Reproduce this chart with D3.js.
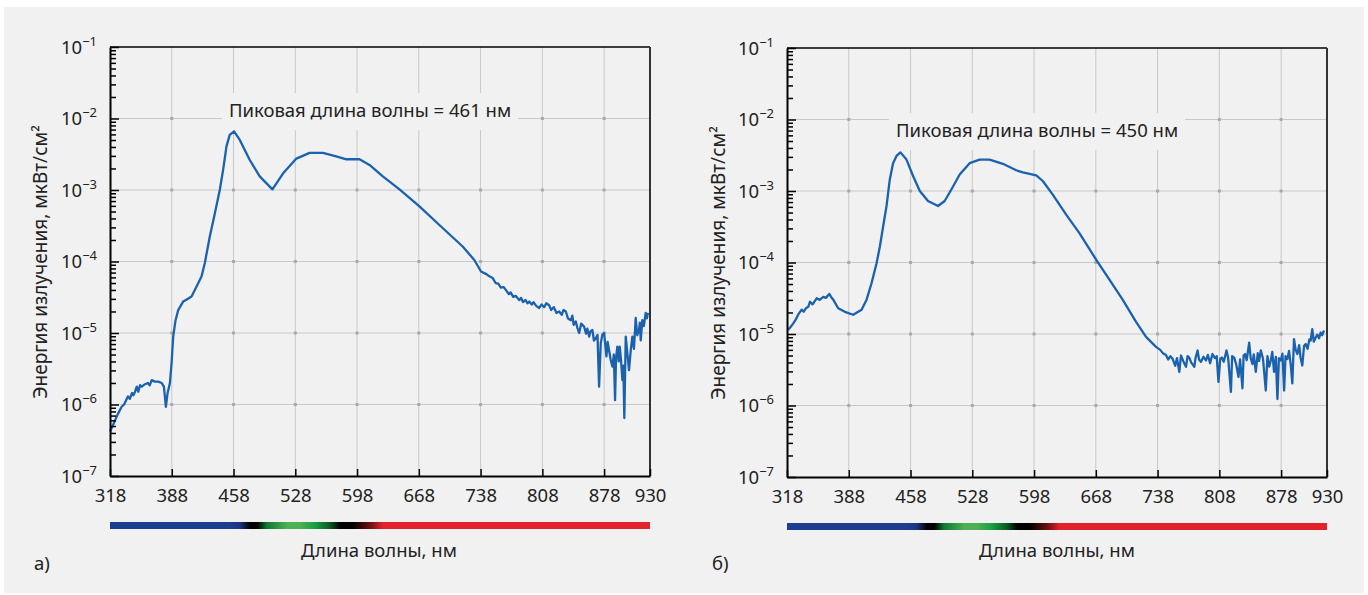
<!DOCTYPE html>
<html>
<head>
<meta charset="utf-8">
<script src="https://cdn.jsdelivr.net/npm/d3@7"></script>
<style>
    body { margin: 0; background: #fff; }
    svg { display: block; font-family: "Noto Sans", sans-serif; }
</style>
</head>
<body>
<svg id="chart" width="1368" height="595"></svg>
<script>
const wavelengthTicks = [318, 388, 458, 528, 598, 668, 738, 808, 878, 930];
const energyDecades = [1e-7, 1e-6, 1e-5, 1e-4, 1e-3, 1e-2, 1e-1];
const minorSteps = [2, 3, 4, 5, 6, 7, 8, 9];

// Panel a) spectrum, nm / мкВт/см²
const wavelengthA = [318, 321, 323.7, 327, 331.2, 334, 338.4, 340.5, 343, 344.5, 346.3, 348.3, 350.1, 352, 353.9,
    357, 361, 363, 365.3, 368.9, 372.8, 376.5, 379.1, 381.3, 383.3, 385.9, 387.8, 389.6, 392.3, 395.3, 400.9,
    405, 410.4, 416.1, 421.7, 425.5, 431.1, 436.8, 442.4, 446.2, 450, 453.7, 458.6, 465.1, 476.4, 487.7, 502.1,
    514, 529.2, 544.2, 559.3, 574.4, 585.8, 600.8, 612.1, 627.2, 646.1, 668.7, 691.3, 717.7, 730.9, 738.5, 745,
    748, 751.6, 755, 758, 761, 764, 766.8, 770, 772, 775, 778, 781.8, 784, 786, 789, 791, 793.1, 796, 798, 801,
    804.4, 807, 810, 812.5, 815.7, 818, 821, 824, 827.1, 830, 832, 834.6, 837, 840.3, 842, 843.5, 845.9, 847.5,
    849.7, 852, 855.3, 857.5, 859, 861, 862.5, 864.7, 866.5, 868.6, 870.5, 872.3, 874.2, 876, 878, 879.5, 880.6,
    882, 883.6, 885.5, 887.4, 889, 890.4, 891.5, 893, 894.5, 895.7, 897, 898.7, 899.8, 900.9, 902.5, 904.5,
    906.2, 908.2, 910, 911.8, 913.8, 915.6, 917.5, 918.5, 919.5, 921.3, 923, 925.1, 926.5, 927.7];
const energyA = [4.2e-7, 5.0e-7, 6.0e-7, 7.4e-7, 9.3e-7, 1.0e-6, 1.3e-6, 1.2e-6, 1.45e-6, 1.35e-6, 1.5e-6, 1.78e-6, 1.51e-6, 1.86e-6, 1.78e-6,
    1.9e-6, 2.0e-6, 1.85e-6, 2.19e-6, 2.09e-6, 2.09e-6, 2.0e-6, 1.78e-6, 9.3e-7, 1.45e-6, 2.0e-6, 3.8e-6, 8.9e-6, 1.51e-5, 2.09e-5, 2.75e-5,
    2.95e-5, 3.24e-5, 4.47e-5, 6.17e-5, 9.55e-5, 2.24e-4, 4.68e-4, 1.0e-3, 1.91e-3, 4.07e-3, 5.89e-3, 6.61e-3, 5.01e-3, 2.63e-3, 1.55e-3, 1.02e-3,
    1.7e-3, 2.75e-3, 3.31e-3, 3.31e-3, 2.95e-3, 2.69e-3, 2.69e-3, 2.24e-3, 1.55e-3, 1.02e-3, 5.89e-4, 3.24e-4, 1.62e-4, 1.05e-4, 7.24e-5, 6.6e-5,
    6.2e-5, 5.89e-5, 5.0e-5, 4.9e-5, 4.3e-5, 4.4e-5, 3.98e-5, 3.5e-5, 3.7e-5, 3.2e-5, 3.3e-5, 2.88e-5, 3.1e-5, 2.7e-5, 2.9e-5, 2.6e-5, 2.75e-5, 2.5e-5, 2.7e-5, 2.4e-5,
    2.24e-5, 2.5e-5, 2.3e-5, 2.6e-5, 2.45e-5, 2.1e-5, 2.3e-5, 1.9e-5, 2.0e-5, 1.8e-5, 2.1e-5, 2.0e-5, 1.6e-5, 1.51e-5, 1.75e-5, 1.3e-5, 1.45e-5, 1.2e-5,
    1.0e-5, 1.35e-5, 1.23e-5, 9.8e-6, 1.15e-5, 8.9e-6, 1.05e-5, 1.1e-5, 7.8e-6, 8.5e-6, 9.4e-6, 1.78e-6, 7.2e-6, 9.5e-6, 1.0e-5, 6.5e-6, 4.7e-6,
    7.5e-6, 5.75e-6, 4.2e-6, 3.39e-6, 5.0e-6, 1.15e-6, 4.5e-6, 6.46e-6, 4.0e-6, 6.46e-6, 4.4e-6, 2.19e-6, 3.5e-6, 6.46e-7, 8.9e-6, 5.0e-6,
    3.02e-6, 5.75e-6, 8.9e-6, 6.0e-6, 1.62e-5, 9.3e-6, 1.1e-5, 1.4e-5, 7.9e-6, 1.51e-5, 1.25e-5, 1.91e-5, 1.6e-5, 1.91e-5];

// Panel б) spectrum
const wavelengthB = [319.5, 322, 325.1, 328, 331, 334.6, 337, 339.5, 342.1, 344, 347, 351.6, 355, 359.1, 362, 365.9,
    368, 370.4, 376, 383.6, 393, 402.5, 408.2, 413.8, 419.5, 423.2, 426.9, 430.8, 434.5, 438.2, 442.1, 446.6,
    453.4, 460.9, 468.5, 477.8, 489.2, 496.7, 504.3, 513.7, 525, 536.3, 547.6, 562.7, 577.8, 585.3, 600.5, 607.9,
    619.2, 634.4, 649.4, 668.3, 683.4, 698.4, 713.6, 724.9, 736.2, 741, 744, 747.5, 750, 752.5, 755, 758, 760,
    762.6, 764.5, 767, 770.2, 772, 773.9, 776, 779.6, 781, 783.3, 785, 787.1, 790, 792.8, 795, 797.5, 800.2,
    803, 805, 807, 809, 810.9, 813, 816.1, 818, 821.1, 822.5, 824.8, 827, 829.7, 831.5, 834.2, 835.5, 837.2,
    839, 841.8, 843.5, 845.5, 847, 849.3, 851.5, 853, 855, 857.5, 860.6, 862.5, 864.5, 866.3, 868, 870, 872,
    873.8, 875.5, 877.6, 879.5, 881.4, 883, 885.1, 887, 889, 890.7, 892.6, 894.5, 896.4, 898.5, 900, 902, 904,
    905.9, 908, 910, 911.5, 913.3, 915, 917.2, 919, 921, 922.8, 924.5, 926.6];
const energyB = [1.15e-5, 1.25e-5, 1.41e-5, 1.6e-5, 1.9e-5, 2.19e-5, 2.05e-5, 2.3e-5, 2.4e-5, 2.82e-5, 2.6e-5, 3.16e-5, 3.0e-5, 3.31e-5, 3.2e-5, 3.63e-5,
    3.3e-5, 3.02e-5, 2.29e-5, 2.04e-5, 1.86e-5, 2.19e-5, 3.02e-5, 5.13e-5, 9.77e-5, 1.66e-4, 3.16e-4, 6.17e-4, 1.45e-3, 2.45e-3, 3.09e-3, 3.47e-3,
    2.75e-3, 1.62e-3, 1.0e-3, 7.24e-4, 6.17e-4, 7.24e-4, 1.05e-3, 1.7e-3, 2.45e-3, 2.75e-3, 2.75e-3, 2.4e-3, 1.95e-3, 1.82e-3, 1.66e-3, 1.38e-3,
    8.9e-4, 4.68e-4, 2.57e-4, 1.1e-4, 5.75e-5, 3.02e-5, 1.48e-5, 9.1e-6, 6.6e-6, 6.0e-6, 5.4e-6, 5.1e-6, 4.4e-6, 4.9e-6, 4.5e-6, 3.6e-6, 4.6e-6,
    2.95e-6, 5.0e-6, 4.2e-6, 3.47e-6, 4.9e-6, 4.68e-6, 4.0e-6, 3.47e-6, 4.6e-6, 5.89e-6, 4.4e-6, 4.07e-6, 4.8e-6, 4.27e-6, 5.1e-6, 3.9e-6, 5.25e-6,
    4.6e-6, 4.9e-6, 2.14e-6, 4.5e-6, 4.68e-6, 4.1e-6, 5.89e-6, 4.6e-6, 1.55e-6, 4.9e-6, 4.68e-6, 3.8e-6, 2.51e-6, 4.4e-6, 1.74e-6, 5.0e-6, 5.25e-6,
    4.3e-6, 7.59e-6, 4.6e-6, 3.8e-6, 5.2e-6, 2.95e-6, 5.4e-6, 4.2e-6, 5.89e-6, 4.5e-6, 1.62e-6, 4.9e-6, 3.5e-6, 4.27e-6, 5.6e-6, 2.95e-6, 4.8e-6,
    1.23e-6, 4.6e-6, 4.27e-6, 5.3e-6, 1.62e-6, 4.9e-6, 4.47e-6, 5.8e-6, 3.6e-6, 2.04e-6, 8.5e-6, 6.0e-6, 5.25e-6, 7.0e-6, 4.7e-6, 3.63e-6, 6.8e-6,
    7.24e-6, 6.2e-6, 8.4e-6, 8.13e-6, 1.17e-5, 7.8e-6, 8.9e-6, 9.8e-6, 8.7e-6, 1.05e-5, 9.6e-6, 1.12e-5];

// colour strip under the x axis: wavelength -> colour
const stripWavelengths = [318, 454, 465, 477, 485, 496, 519, 533, 550, 567, 579, 593, 613, 627, 930];
const stripColors = ["#1d3d91", "#1d3d91", "#1e3480", "#000000", "#000000", "#0c7a32", "#4db052", "#4db052",
    "#19a045", "#0b5a24", "#000000", "#000000", "#6e0f12", "#e2222a", "#e2222a"];

const yTitle = "Энергия излучения, мкВт/см²";
const xTitle = "Длина волны, нм";

const svg = d3.select("#chart");
const bg = "#f1f1f1";
const ink = "#222";
const fontSize = 18.5;

svg.append("rect")
    .attr("x", 4).attr("y", 7)
    .attr("width", 1360).attr("height", 586)
    .attr("fill", bg);

// gradient for the colour strip, shared by both panels
const stripX = d3.scaleLinear().domain([318, 930]).range([0, 1]);
svg.append("defs")
    .append("linearGradient")
    .attr("id", "spectrum")
    .selectAll("stop")
    .data(stripWavelengths)
    .join("stop")
    .attr("offset", d => stripX(d))
    .attr("stop-color", (_, i) => stripColors[i]);

drawPanel({
    left: 110, top: 47, wl: wavelengthA, energy: energyA,
    peak: "Пиковая длина волны = 461 нм", peakX: 370, peakY: 117, boxY: 93,
    tag: "а)", tagX: 34, titleX: 379, yTitleX: 47
});
drawPanel({
    left: 787, top: 48, wl: wavelengthB, energy: energyB,
    peak: "Пиковая длина волны = 450 нм", peakX: 1037, peakY: 137, boxY: 113,
    tag: "б)", tagX: 712, titleX: 1057, yTitleX: 725
});

function drawPanel(p) {
    const width = 540;
    const height = 429;

    const x = d3.scaleLinear()
        .domain([318, 930])
        .range([p.left, p.left + width]);
    const y = d3.scaleLog()
        .domain([1e-7, 1e-1])
        .range([p.top + height, p.top]);

    const g = svg.append("g");

    // grid
    const innerX = wavelengthTicks.slice(1, -1);
    const innerY = energyDecades.slice(1, -1);
    g.append("g")
        .selectAll("line")
        .data(innerX)
        .join("line")
        .attr("x1", d => x(d)).attr("x2", d => x(d))
        .attr("y1", p.top).attr("y2", p.top + height)
        .attr("stroke", "#c8c8c8");
    g.append("g")
        .selectAll("line")
        .data(innerY)
        .join("line")
        .attr("x1", p.left).attr("x2", p.left + width)
        .attr("y1", d => y(d)).attr("y2", d => y(d))
        .attr("stroke", "#c8c8c8");

    // little squares where grid lines cross
    const crossings = d3.cross(innerX, innerY);
    g.append("g")
        .selectAll("rect")
        .data(crossings)
        .join("rect")
        .attr("x", d => x(d[0]) - 1.5)
        .attr("y", d => y(d[1]) - 1.5)
        .attr("width", 3).attr("height", 3)
        .attr("fill", "#a9a9a9");

    // peak label, on a patch that hides the grid
    const label = g.append("text")
        .attr("x", p.peakX).attr("y", p.peakY)
        .attr("text-anchor", "middle")
        .attr("font-size", fontSize)
        .attr("fill", ink)
        .text(p.peak);
    const box = label.node().getBBox();
    g.insert("rect", "text")
        .attr("x", box.x - 7).attr("y", p.boxY)
        .attr("width", box.width + 14).attr("height", 37)
        .attr("fill", bg);

    // spectrum line
    const points = p.wl.map((w, i) => [w, p.energy[i]]);
    g.append("path")
        .datum(points)
        .attr("fill", "none")
        .attr("stroke", "#1a62ae")
        .attr("stroke-width", 2.3)
        .attr("stroke-linejoin", "round")
        .attr("d", d3.line().x(d => x(d[0])).y(d => y(d[1])));

    // frame
    g.append("line")
        .attr("x1", p.left).attr("x2", p.left + width)
        .attr("y1", p.top).attr("y2", p.top)
        .attr("stroke", "#000").attr("stroke-width", 1.5);
    g.append("line")
        .attr("x1", p.left + width).attr("x2", p.left + width)
        .attr("y1", p.top).attr("y2", p.top + height)
        .attr("stroke", "#333").attr("stroke-width", 2);

    // x axis, ticks pointing inward
    const xAxis = g.append("g")
        .attr("transform", `translate(0,${p.top + height})`)
        .call(d3.axisBottom(x)
            .tickValues(wavelengthTicks)
            .tickSizeInner(-7)
            .tickSizeOuter(0)
            .tickPadding(13)
            .tickFormat(d3.format("d")));
    xAxis.select(".domain").attr("stroke-width", 2);
    xAxis.selectAll(".tick line").attr("stroke-width", 1.5);
    xAxis.selectAll("text")
        .attr("font-size", fontSize)
        .attr("font-family", "\"Noto Sans\", sans-serif")
        .attr("fill", ink);

    // y axis: minor then major ticks, pointing inward
    const minors = d3.cross(energyDecades.slice(0, -1), minorSteps).map(([d, m]) => d * m);
    const yMinor = g.append("g")
        .attr("transform", `translate(${p.left},0)`)
        .call(d3.axisLeft(y).tickValues(minors).tickSizeInner(-6).tickSizeOuter(0).tickFormat(""));
    yMinor.select(".domain").remove();
    yMinor.selectAll(".tick line").attr("stroke-width", 1.5);

    const yAxis = g.append("g")
        .attr("transform", `translate(${p.left},0)`)
        .call(d3.axisLeft(y).tickValues(energyDecades).tickSizeInner(-9).tickSizeOuter(0).tickFormat(""));
    yAxis.select(".domain").attr("stroke-width", 2);
    yAxis.selectAll(".tick line").attr("stroke-width", 1.5);

    const yLabels = g.append("g")
        .selectAll("text")
        .data(energyDecades)
        .join("text")
        .attr("x", p.left - 13)
        .attr("y", d => y(d) + 6.5)
        .attr("text-anchor", "end")
        .attr("font-size", fontSize)
        .attr("fill", ink);
    yLabels.append("tspan").text("10");
    yLabels.append("tspan")
        .attr("font-size", 13)
        .attr("dy", -8)
        .text(d => "−" + Math.round(-Math.log10(d)));

    // colour strip and titles
    g.append("rect")
        .attr("x", x(318)).attr("y", p.top + height + 46)
        .attr("width", width).attr("height", 7)
        .attr("fill", "url(#spectrum)");

    g.append("text")
        .attr("x", p.titleX).attr("y", 557)
        .attr("text-anchor", "middle")
        .attr("font-size", fontSize)
        .attr("fill", ink)
        .text(xTitle);

    g.append("text")
        .attr("transform", `translate(${p.yTitleX},${p.top + 215}) rotate(-90)`)
        .attr("text-anchor", "middle")
        .attr("font-size", 19)
        .attr("fill", ink)
        .text(yTitle);

    g.append("text")
        .attr("x", p.tagX).attr("y", 570)
        .attr("font-size", fontSize)
        .attr("fill", ink)
        .text(p.tag);
}
</script>
</body>
</html>
